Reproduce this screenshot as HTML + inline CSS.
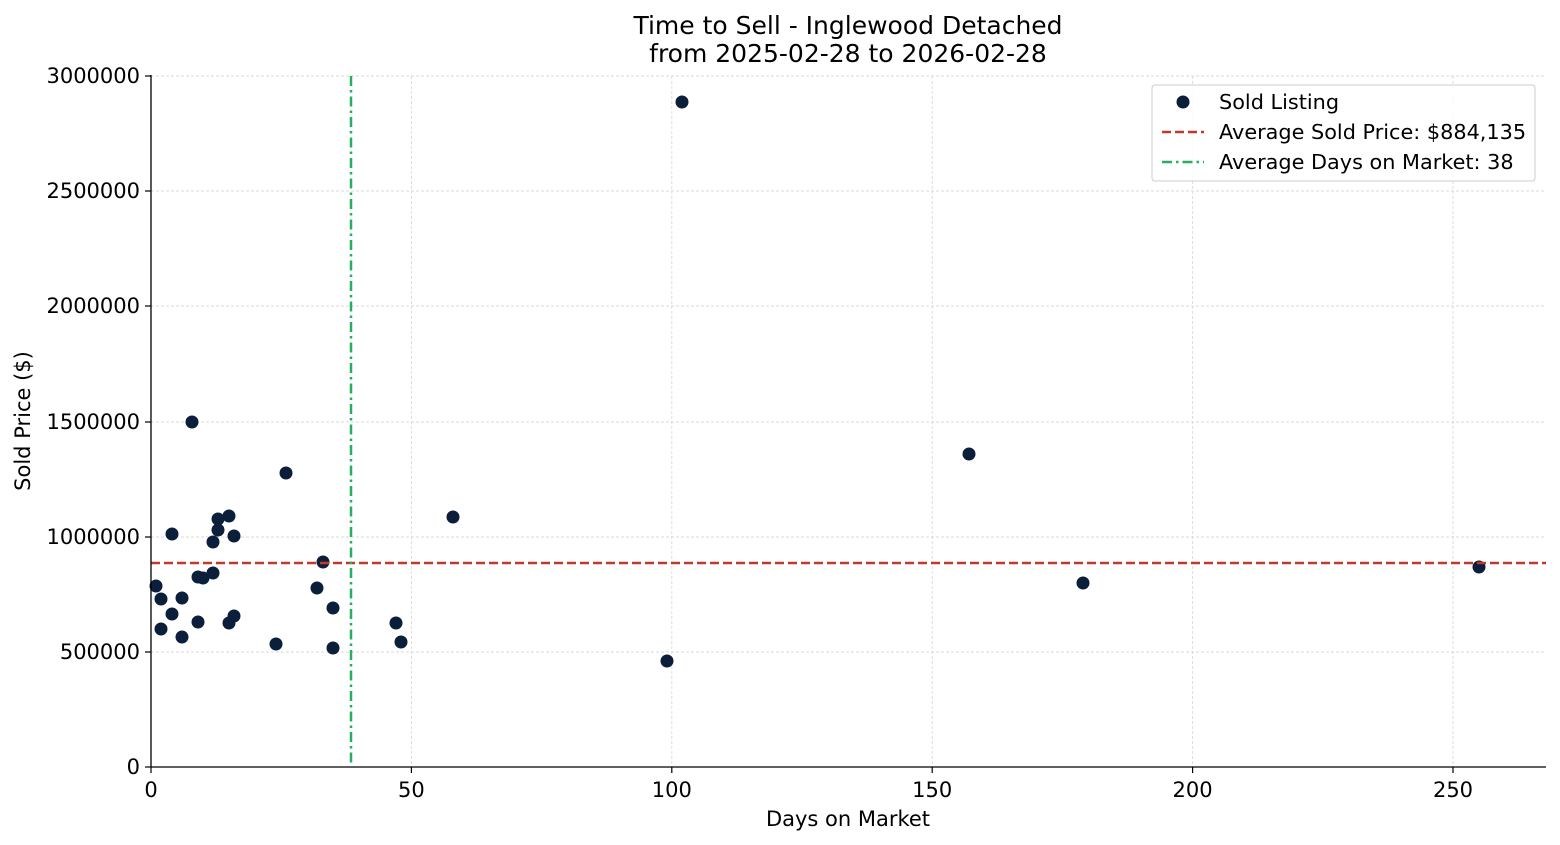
<!DOCTYPE html>
<html><head><style>
html,body{margin:0;padding:0;background:#fff;}
svg{display:block;font-family:"DejaVu Sans","Liberation Sans",sans-serif;}
</style></head><body>
<svg width="1560" height="845" viewBox="0 0 1560 845" xmlns="http://www.w3.org/2000/svg">
<rect width="1560" height="845" fill="#fff"/>
<g stroke="#d9d9d9" stroke-width="0.9" stroke-dasharray="3,2">
<line x1="151" y1="76" x2="151" y2="767"/>
<line x1="411.4" y1="76" x2="411.4" y2="767"/>
<line x1="671.8" y1="76" x2="671.8" y2="767"/>
<line x1="932.2" y1="76" x2="932.2" y2="767"/>
<line x1="1192.6" y1="76" x2="1192.6" y2="767"/>
<line x1="1453" y1="76" x2="1453" y2="767"/>
<line x1="151" y1="652" x2="1546" y2="652"/>
<line x1="151" y1="537" x2="1546" y2="537"/>
<line x1="151" y1="422" x2="1546" y2="422"/>
<line x1="151" y1="306" x2="1546" y2="306"/>
<line x1="151" y1="191" x2="1546" y2="191"/>
<line x1="151" y1="76" x2="1546" y2="76"/>
</g>
<g fill="#0b1f3a">
<circle cx="156" cy="586" r="6.5"/><circle cx="161" cy="599" r="6.5"/><circle cx="161" cy="629" r="6.5"/>
<circle cx="172" cy="534" r="6.5"/><circle cx="172" cy="614" r="6.5"/><circle cx="182" cy="598" r="6.5"/>
<circle cx="182" cy="637" r="6.5"/><circle cx="192" cy="422" r="6.5"/><circle cx="198" cy="577" r="6.5"/>
<circle cx="198" cy="622" r="6.5"/><circle cx="203" cy="578" r="6.5"/><circle cx="213" cy="542" r="6.5"/>
<circle cx="213" cy="573" r="6.5"/><circle cx="218" cy="519" r="6.5"/><circle cx="218" cy="530" r="6.5"/>
<circle cx="229" cy="516" r="6.5"/><circle cx="229" cy="623" r="6.5"/><circle cx="234" cy="536" r="6.5"/>
<circle cx="234" cy="616" r="6.5"/><circle cx="276" cy="644" r="6.5"/><circle cx="286" cy="473" r="6.5"/>
<circle cx="317" cy="588" r="6.5"/><circle cx="323" cy="562" r="6.5"/><circle cx="333" cy="608" r="6.5"/>
<circle cx="333" cy="648" r="6.5"/><circle cx="396" cy="623" r="6.5"/><circle cx="401" cy="642" r="6.5"/>
<circle cx="453" cy="517" r="6.5"/><circle cx="667" cy="661" r="6.5"/><circle cx="682" cy="102" r="6.5"/>
<circle cx="969" cy="454" r="6.5"/><circle cx="1083" cy="583" r="6.5"/><circle cx="1479" cy="567" r="6.5"/>
</g>
<line x1="151" y1="563" x2="1546" y2="563" stroke="#c0392b" stroke-width="2.5" stroke-dasharray="9,4"/>
<line x1="351" y1="76" x2="351" y2="767" stroke="#27ae60" stroke-width="2.5" stroke-dasharray="10,4,2.5,4"/>
<g stroke="#000" stroke-width="1.3">
<line x1="151" y1="75" x2="151" y2="767"/>
<line x1="151" y1="767" x2="1546" y2="767"/>
</g>
<g stroke="#000" stroke-width="1.2">
<line x1="151" y1="767" x2="151" y2="773"/><line x1="411.4" y1="767" x2="411.4" y2="773"/>
<line x1="671.8" y1="767" x2="671.8" y2="773"/><line x1="932.2" y1="767" x2="932.2" y2="773"/>
<line x1="1192.6" y1="767" x2="1192.6" y2="773"/><line x1="1453" y1="767" x2="1453" y2="773"/>
<line x1="145" y1="767" x2="151" y2="767"/><line x1="145" y1="652" x2="151" y2="652"/>
<line x1="145" y1="537" x2="151" y2="537"/><line x1="145" y1="422" x2="151" y2="422"/>
<line x1="145" y1="306" x2="151" y2="306"/><line x1="145" y1="191" x2="151" y2="191"/>
<line x1="145" y1="76" x2="151" y2="76"/>
</g>
<g font-size="21" fill="#000" text-anchor="middle">
<text x="151" y="797">0</text><text x="411.4" y="797">50</text><text x="671.8" y="797">100</text>
<text x="932.2" y="797">150</text><text x="1192.6" y="797">200</text><text x="1453" y="797">250</text>
</g>
<g font-size="21" fill="#000" text-anchor="end">
<text x="140" y="774">0</text><text x="140" y="659">500000</text><text x="140" y="544">1000000</text>
<text x="140" y="429">1500000</text><text x="140" y="313">2000000</text><text x="140" y="198">2500000</text>
<text x="140" y="83">3000000</text>
</g>
<text x="848" y="826" font-size="21" text-anchor="middle">Days on Market</text>
<text transform="translate(30,421) rotate(-90)" font-size="21" text-anchor="middle">Sold Price ($)</text>
<text x="848" y="34" font-size="25" text-anchor="middle">Time to Sell - Inglewood Detached</text>
<text x="848" y="62" font-size="25" text-anchor="middle">from 2025-02-28 to 2026-02-28</text>
<rect x="1152" y="85" width="383" height="96" rx="3" fill="#fff" fill-opacity="0.85" stroke="#ccc"/>
<circle cx="1183" cy="102" r="6.5" fill="#0b1f3a"/>
<line x1="1162" y1="132" x2="1204" y2="132" stroke="#c0392b" stroke-width="2.6" stroke-dasharray="9,4"/>
<line x1="1162" y1="162" x2="1204" y2="162" stroke="#27ae60" stroke-width="2.6" stroke-dasharray="10,4,2.5,4"/>
<g font-size="20.8" fill="#000">
<text x="1219" y="109">Sold Listing</text>
<text x="1219" y="139">Average Sold Price: $884,135</text>
<text x="1219" y="169">Average Days on Market: 38</text>
</g>
</svg>
</body></html>
